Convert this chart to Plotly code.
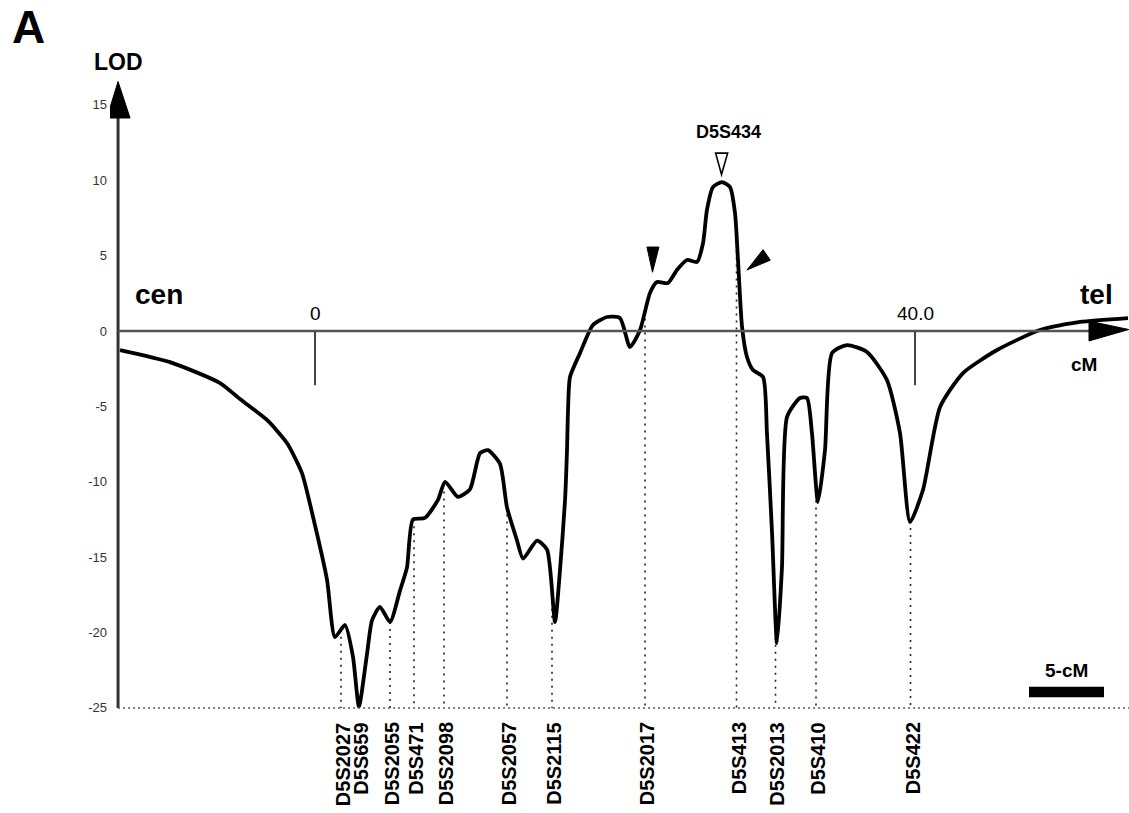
import numpy as np
import plotly.graph_objects as go

# ---------------- data ----------------
cm = [-13.0, -9.67, -6.33, -5.0, -3.2, -1.87, -0.87, -0.13, 0.8, 1.33, 2.0, 2.53, 2.93,
      3.47, 3.8, 4.33, 5.0, 5.67, 6.13, 6.53, 7.33, 8.2, 8.67, 9.53, 10.33, 11.0, 11.53,
      12.33, 12.8, 13.47, 13.87, 14.8, 15.47, 16.0, 16.33, 16.67, 16.8, 16.87, 17.0,
      17.67, 18.53, 19.47, 20.33, 21.0, 21.67, 22.33, 22.8, 23.53, 24.13, 24.8, 25.47,
      25.87, 26.13, 26.53, 27.13, 27.67, 28.0, 28.2, 28.47, 28.8, 29.2, 29.87, 30.13,
      30.47, 30.8, 31.13, 31.47, 32.33, 32.8, 33.13, 33.53, 34.0, 34.47, 35.47, 36.8,
      38.13, 39.0, 39.67, 40.53, 41.67, 43.2, 45.47, 48.33, 51.0, 54.2]
lod = [-1.26, -2.06, -3.45, -4.51, -5.9, -7.43, -9.42, -12.34, -16.5, -20.3, -19.5, -21.6, -24.9,
       -21.4, -19.2, -18.3, -19.3, -17.2, -15.7, -12.5, -12.4, -11.2, -10.0, -11.0, -10.5, -8.1, -7.9,
       -8.8, -11.7, -13.9, -15.1, -13.9, -14.5, -19.3, -15.9, -11.2, -7.9, -5.2, -3.05,
       -1.46, 0.4, 0.93, 0.86, -1.06, 0.07, 2.52, 3.25, 3.18, 4.05, 4.71, 4.58,
       5.84, 8.03, 9.55, 9.88, 9.55, 7.83, 4.71, 0.27, -1.72, -2.59, -3.05, -6.77,
       -13.4, -20.7, -15.7, -5.7, -4.44, -4.44, -6.77, -11.34, -7.9, -1.46, -0.93, -1.39,
       -3.25, -6.77, -12.67, -10.55, -5.04, -2.79, -1.26, 0.07, 0.6, 0.86]

marker_names = ["D5S2027", "D5S659", "D5S2055", "D5S471", "D5S2098", "D5S2057", "D5S2115",
                "D5S2017", "D5S413", "D5S2013", "D5S410", "D5S422"]
marker_cm = [1.73, 2.93, 5.0, 6.6, 8.6, 12.8, 15.8, 22.0, 28.1, 30.7, 33.4, 39.7]

peak_name = "D5S434"
peak_cm = 27.13
peak_lod = 9.88

ytick_vals = [15, 10, 5, 0, -5, -10, -15, -20, -25]
ytick_text = ["15", "10", "5", "0", "-5", "-10", "-15", "-20", "-25"]
scale_ticks = [0, 40]
scale_tick_text = ["0", "40.0"]

# ---------------- layout constants ----------------
W, H = 1129, 813
X_RANGE = [-13.667, 54.267]
Y_RANGE = [-31.97, 21.957]
AXIS_X = -13.13          # where the LOD axis stands
Y_BOTTOM = -25
FONT = "Liberation Sans, Arial, sans-serif"

fig = go.Figure()

# dotted marker drop lines (from curve down to the bottom line)
tops = np.interp(marker_cm, cm, lod)
dx, dy = [], []
for m, t in zip(marker_cm, tops):
    dx += [m, m, None]
    dy += [t, Y_BOTTOM, None]
fig.add_trace(go.Scatter(x=dx, y=dy, mode="lines",
                         line=dict(color="#222", width=1.6, dash="2px,5px"),
                         hoverinfo="skip", showlegend=False))

# LOD curve
fig.add_trace(go.Scatter(x=cm, y=lod, mode="lines",
                         line=dict(color="black", width=3.8, shape="spline", smoothing=0.6),
                         showlegend=False))

shapes = []
# LOD axis (vertical) + arrowhead
shapes.append(dict(type="line", x0=AXIS_X, x1=AXIS_X, y0=Y_BOTTOM, y1=14.3,
                   line=dict(color="#333", width=3)))
shapes.append(dict(type="path",
                   path=f"M {AXIS_X-0.75} 14.13 L {AXIS_X+0.8} 14.13 L {AXIS_X} 16.55 Z",
                   fillcolor="black", line=dict(color="black", width=1)))
# cM axis (horizontal at LOD 0) + arrowhead
shapes.append(dict(type="line", x0=AXIS_X, x1=51.8, y0=0, y1=0,
                   line=dict(color="#555", width=2.5)))
shapes.append(dict(type="path",
                   path="M 51.6 0.66 L 54.25 0.1 L 51.6 -0.66 Z",
                   fillcolor="black", line=dict(color="black", width=1)))
# bottom dotted line
shapes.append(dict(type="line", x0=AXIS_X, x1=X_RANGE[1], y0=Y_BOTTOM, y1=Y_BOTTOM,
                   line=dict(color="#555", width=1.5, dash="2px,3px")))
# scale ticks at 0 and 40 cM
for t in scale_ticks:
    shapes.append(dict(type="line", x0=t, x1=t, y0=0, y1=-3.6,
                       line=dict(color="#444", width=2)))
# arrowheads around the peak region
shapes.append(dict(type="path",   # filled down triangle
                   path="M 22.13 5.57 L 22.93 5.57 L 22.5 3.9 Z",
                   fillcolor="black", line=dict(color="black", width=1)))
shapes.append(dict(type="path",   # open down triangle above peak
                   path=f"M {peak_cm-0.42} 11.8 L {peak_cm+0.38} 11.8 L {peak_cm-0.03} 10.38 Z",
                   fillcolor="white", line=dict(color="black", width=1.6)))
shapes.append(dict(type="path",   # pointer on the right flank
                   path="M 28.8 4.05 L 29.87 5.4 L 30.35 4.7 Z",
                   fillcolor="black", line=dict(color="black", width=1)))
# 5-cM scale bar
shapes.append(dict(type="rect", x0=47.6, x1=52.6, y0=-24.3, y1=-23.6,
                   fillcolor="black", line=dict(color="black", width=0)))

ann = []
def txt(x, y, s, size, bold=True, xref="x", yref="y", **kw):
    ann.append(dict(x=x, y=y, xref=xref, yref=yref, text=f"<b>{s}</b>" if bold else s,
                    showarrow=False, xanchor="center", yanchor="middle",
                    font=dict(family=FONT, size=size, color="black"), **kw))

txt((28 - 110) / (W - 110), 1 - 27 / H, "A", 46, xref="paper", yref="paper")
txt(AXIS_X + 0.05, 17.84, "LOD", 23)
txt(-10.4, 2.39, "cen", 28)
txt(52.07, 2.39, "tel", 28)
txt(51.27, -2.19, "cM", 19)
for t, s in zip(scale_ticks, scale_tick_text):
    txt(t + 0.05, 1.15, s, 19, bold=False)
txt(peak_cm + 0.45, 13.2, peak_name, 18)
txt(50.1, -22.55, "5-cM", 19)
for m, s in zip(marker_cm, marker_names):
    ann.append(dict(x=m, y=Y_BOTTOM - 0.85, xref="x", yref="y", text=f"<b>{s}</b>",
                    showarrow=False, textangle=-90, yanchor="top", xanchor="center", xshift=2,
                    font=dict(family=FONT, size=20, color="black")))

fig.update_layout(
    width=W, height=H,
    margin=dict(l=110, r=0, t=0, b=0),
    paper_bgcolor="white", plot_bgcolor="white",
    shapes=shapes, annotations=ann,
    xaxis=dict(range=X_RANGE, visible=False, fixedrange=True),
    yaxis=dict(range=Y_RANGE, tickvals=ytick_vals, ticktext=ytick_text,
               showgrid=False, zeroline=False, showline=False, ticks="",
               ticklabelstandoff=2, fixedrange=True,
               tickfont=dict(family=FONT, size=13, color="#333")),
    showlegend=False,
)

fig.write_html("out.html", config={"displayModeBar": False},
               post_script="document.body.style.margin='0';document.body.style.overflow='hidden';")
